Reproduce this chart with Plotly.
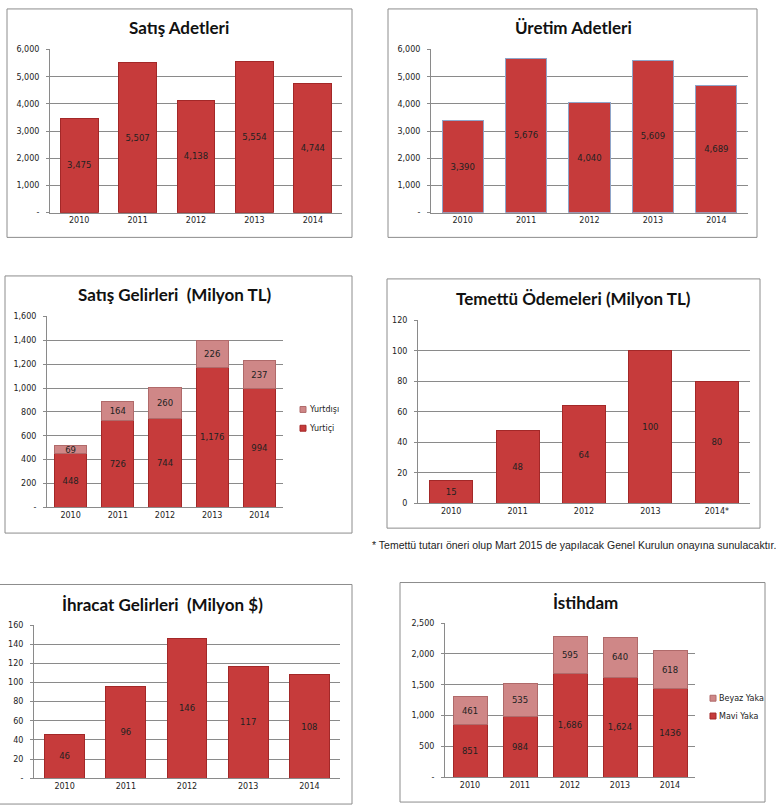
import plotly.graph_objects as go

W, H = 776, 812

years = ["2010", "2011", "2012", "2013", "2014"]
years_star = ["2010", "2011", "2012", "2013", "2014*"]

satis_adet = [3475, 5507, 4138, 5554, 4744]
uretim_adet = [3390, 5676, 4040, 5609, 4689]
gelir_yurtici = [448, 726, 744, 1176, 994]
gelir_yurtdisi = [69, 164, 260, 226, 237]
temettu = [15, 48, 64, 100, 80]
ihracat = [46, 96, 146, 117, 108]
mavi_yaka = [851, 984, 1686, 1624, 1436]
beyaz_yaka = [461, 535, 595, 640, 618]
mavi_labels = ["851", "984", "1,686", "1,624", "1436"]

titles = ["Satış Adetleri", "Üretim Adetleri", "Satış Gelirleri  (Milyon TL)",
          "Temettü Ödemeleri (Milyon TL)", "İhracat Gelirleri  (Milyon $)", "İstihdam"]
footnote = "* Temettü tutarı öneri olup Mart 2015 de yapılacak Genel Kurulun onayına sunulacaktır."
legend_gelir = ["Yurtdışı", "Yurtiçi"]
legend_istihdam = ["Beyaz Yaka", "Mavi Yaka"]

RED = "#C63B3B"
RED_LINE = "#A32828"
PINK = "#CF8787"
PINK_LINE = "#B06A6A"
GRID = "#8A8A8A"

# pixel geometry: plot area (x0, x1, top, bottom), border box, title centre
panels = [
    dict(plot=(50, 342, 46, 211), border=(7, 352, 5, 236), title=(179, 24)),
    dict(plot=(431, 748, 46, 211), border=(388, 757, 5, 236), title=(573, 24)),
    dict(plot=(47, 283, 316, 509), border=(5, 352, 275, 535), title=(175, 294)),
    dict(plot=(418, 750, 320, 505), border=(387, 760, 278, 530), title=(573, 298)),
    dict(plot=(34, 340, 628, 783), border=(-2, 352, 587, 809), title=(162, 607)),
    dict(plot=(445, 695, 626, 782), border=(400, 765, 585, 807), title=(585, 605)),
]

def px(x):
    return x / W

def py(y):
    return 1 - y / H

fig = go.Figure()
lab_font = dict(family="DejaVu Sans", size=8.5, color="#222222")

def bar(x, y, idx, color, line, text, width=0.65):
    ax = "" if idx == 1 else str(idx)
    fig.add_trace(go.Bar(
        x=x, y=y, xaxis="x" + ax, yaxis="y" + ax,
        marker=dict(color=color, line=dict(color=line, width=1)),
        width=width, text=text, textposition="inside", insidetextanchor="middle",
        textangle=0, textfont=lab_font, showlegend=False, hoverinfo="x+y"))

bar(years, satis_adet, 1, RED, RED_LINE, [f"{v:,}" for v in satis_adet])
bar(years, uretim_adet, 2, RED, "#8FA5C9", [f"{v:,}" for v in uretim_adet])
bar(years, gelir_yurtici, 3, RED, RED_LINE, [f"{v:,}" for v in gelir_yurtici], width=0.68)
bar(years, gelir_yurtdisi, 3, PINK, PINK_LINE, [f"{v:,}" for v in gelir_yurtdisi], width=0.68)
bar(years_star, temettu, 4, RED, RED_LINE, [f"{v:,}" for v in temettu])
bar(years, ihracat, 5, RED, RED_LINE, [f"{v:,}" for v in ihracat])
bar(years, mavi_yaka, 6, RED, RED_LINE, mavi_labels, width=0.68)
bar(years, beyaz_yaka, 6, PINK, PINK_LINE, [f"{v:,}" for v in beyaz_yaka], width=0.68)

yspecs = [
    (0, 6000, 1000, "-"),
    (0, 6000, 1000, "-"),
    (0, 1600, 200, "-"),
    (0, 120, 20, "0"),
    (0, 160, 20, "-"),
    (0, 2500, 500, "-"),
]

tick_font = dict(family="DejaVu Sans", size=8, color="#222222")
layout = dict(
    width=W, height=H, margin=dict(l=0, r=0, t=0, b=0, pad=0),
    paper_bgcolor="white", plot_bgcolor="white",
    barmode="stack", showlegend=False,
    uniformtext=dict(minsize=8.5, mode="show"),
    shapes=[], annotations=[],
)

for i, (p, ys) in enumerate(zip(panels, yspecs), start=1):
    ax = "" if i == 1 else str(i)
    x0, x1, y0, y1 = p["plot"]
    lo, hi, step, zero = ys
    vals = list(range(lo, hi + 1, step))
    texts = [zero] + [f"{v:,}" for v in vals[1:]]
    layout["xaxis" + ax] = dict(
        domain=[px(x0), px(x1)], anchor="y" + ax, showgrid=False,
        showline=True, linecolor=GRID, linewidth=1, ticks="", tickfont=tick_font,
        fixedrange=True)
    layout["yaxis" + ax] = dict(
        domain=[py(y1), py(y0)], anchor="x" + ax, range=[lo, hi],
        tickvals=vals, ticktext=texts, showgrid=True, gridcolor=GRID, gridwidth=1,
        showline=True, linecolor=GRID, linewidth=1, ticks="outside", ticklen=3,
        tickcolor=GRID, tickfont=tick_font, zeroline=False, fixedrange=True,
        ticklabelstandoff=5)
    bx0, bx1, by0, by1 = p["border"]
    layout["shapes"].append(dict(type="rect", xref="paper", yref="paper",
                                 x0=px(bx0), x1=px(bx1), y0=py(by1), y1=py(by0),
                                 line=dict(color="#8C8C8C", width=1), layer="below"))
    tx, ty = p["title"]
    layout["annotations"].append(dict(
        text="<b>" + titles[i - 1] + "</b>", xref="paper", yref="paper",
        x=px(tx), y=py(ty), xanchor="center", yanchor="middle", showarrow=False,
        font=dict(family="Lato", size=17, color="#111111")))

layout["annotations"].append(dict(
    text=footnote, xref="paper", yref="paper", x=px(370), y=py(547),
    xanchor="left", yanchor="middle", showarrow=False,
    font=dict(family="Liberation Sans", size=10.5, color="#222222")))

# manual legends (small Excel-style squares)
leg_font = dict(family="DejaVu Sans", size=8, color="#222222")
def legend(x_sq, ys_px, names, colors, lines):
    for yc, name, c, lc in zip(ys_px, names, colors, lines):
        layout["shapes"].append(dict(type="rect", xref="paper", yref="paper",
                                     x0=px(x_sq), x1=px(x_sq + 6),
                                     y0=py(yc + 3), y1=py(yc - 3),
                                     fillcolor=c, line=dict(color=lc, width=1)))
        layout["annotations"].append(dict(
            text=name, xref="paper", yref="paper", x=px(x_sq + 7), y=py(yc),
            xanchor="left", yanchor="middle", showarrow=False, font=leg_font))

legend(300, [410, 429], legend_gelir, [PINK, RED], [PINK_LINE, RED_LINE])
legend(710, [702, 720], legend_istihdam, [PINK, RED], [PINK_LINE, RED_LINE])

fig.update_layout(**layout)
fig.write_html("out.html", config={"displayModeBar": False},
               post_script="document.body.style.margin='0';document.body.style.overflow='hidden';")
